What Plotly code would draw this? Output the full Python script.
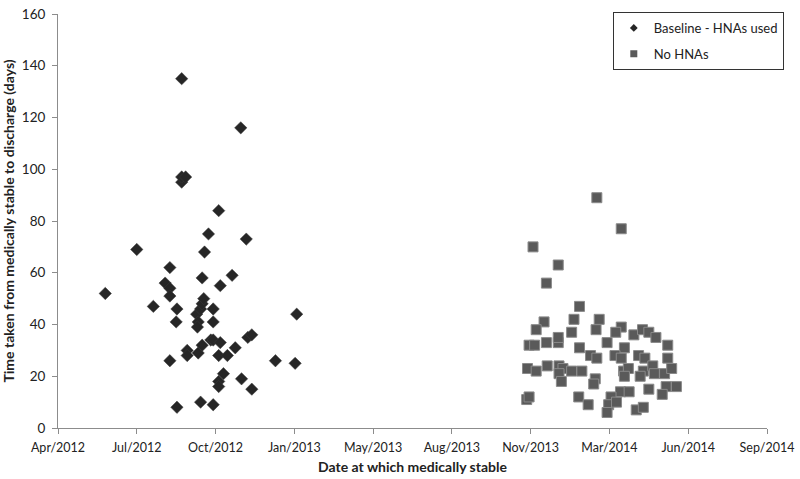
import plotly.graph_objects as go

# Baseline - HNAs used (date medically stable, days to discharge)
baseline_dates = [
    "2012-05-31", "2012-07-10", "2012-07-31", "2012-08-15", "2012-08-21", "2012-08-21",
    "2012-08-21", "2012-08-21", "2012-08-30", "2012-08-29", "2012-08-30", "2012-09-05",
    "2012-09-05", "2012-09-05", "2012-09-10", "2012-09-12", "2012-09-12", "2012-09-24",
    "2012-09-26", "2012-09-25", "2012-09-26", "2012-09-29", "2012-10-01", "2012-10-01",
    "2012-09-29", "2012-10-01", "2012-10-03", "2012-10-04", "2012-10-09", "2012-10-12",
    "2012-10-15", "2012-10-15", "2012-10-15", "2012-10-15", "2012-10-22", "2012-10-24",
    "2012-10-24", "2012-10-22", "2012-10-22", "2012-10-22", "2012-10-28", "2012-11-02",
    "2012-11-08", "2012-11-12", "2012-11-19", "2012-11-20", "2012-11-26", "2012-11-28",
    "2012-12-03", "2012-12-03", "2013-01-02", "2013-01-27", "2013-01-29",
]
baseline_days = [
    52, 69, 47, 56, 62, 54,
    51, 26, 46, 41, 8, 135,
    95, 97, 97, 30, 28, 44,
    41, 39, 29, 10, 58, 32,
    46, 48, 50, 68, 75, 34,
    46, 41, 34, 9, 84, 55,
    33, 28, 18, 16, 21, 28,
    59, 31, 116, 19, 73, 35,
    36, 15, 26, 25, 44,
]

# No HNAs
nohna_dates = [
    "2014-02-14", "2014-03-17", "2013-11-25", "2013-12-27", "2013-12-12", "2014-01-23",
    "2013-12-09", "2014-01-16", "2014-02-17", "2013-11-29", "2014-01-13", "2014-02-13",
    "2014-03-17", "2014-03-10", "2014-04-02", "2014-04-13", "2014-04-21", "2014-04-30",
    "2014-05-15", "2013-11-20", "2013-11-27", "2013-12-12", "2013-12-27", "2013-12-27",
    "2014-02-27", "2014-01-23", "2014-03-21", "2014-02-06", "2014-02-14", "2014-03-09",
    "2014-03-17", "2014-04-08", "2014-04-16", "2014-05-15", "2013-11-18", "2013-11-29",
    "2013-12-13", "2013-12-28", "2014-01-02", "2013-12-28", "2013-12-31", "2014-01-13",
    "2014-01-26", "2014-02-12", "2014-02-10", "2014-03-20", "2014-03-26", "2014-03-21",
    "2014-04-14", "2014-04-10", "2014-04-26", "2014-04-28", "2014-05-11", "2014-05-20",
    "2014-05-13", "2014-05-26", "2014-04-21", "2014-05-08", "2014-03-16", "2014-03-27",
    "2014-03-04", "2014-03-01", "2014-03-11", "2014-02-27", "2014-04-05", "2014-04-14",
    "2014-01-22", "2014-02-03", "2013-11-17", "2013-11-20",
]
nohna_days = [
    89, 77, 70, 63, 56, 47,
    41, 42, 42, 38, 37, 38,
    39, 37, 36, 38, 37, 35,
    32, 32, 32, 33, 33, 35,
    33, 31, 31, 28, 27, 28,
    27, 28, 27, 27, 23, 22,
    24, 24, 23, 21, 18, 22,
    22, 19, 17, 22, 23, 20,
    22, 20, 24, 21, 21, 23,
    16, 16, 15, 13, 14, 14,
    12, 9, 10, 6, 7, 8,
    12, 9, 11, 12,
]

y_ticks = [0, 20, 40, 60, 80, 100, 120, 140, 160]

font_family = "Lato, 'Open Sans', sans-serif"
DIAMOND_COLOR = "#262626"
SQUARE_COLOR = "#5a5a5a"

fig = go.Figure()
fig.add_trace(go.Scatter(
    x=baseline_dates, y=baseline_days, mode="markers",
    name="Baseline - HNAs used", showlegend=False,
    marker=dict(symbol="diamond", size=9.5, color=DIAMOND_COLOR,
                line=dict(color="#3a3a3a", width=0.5)),
))
fig.add_trace(go.Scatter(
    x=nohna_dates, y=nohna_days, mode="markers",
    name="No HNAs", showlegend=False,
    marker=dict(symbol="square", size=10, color=SQUARE_COLOR,
                line=dict(color="#8a8a8a", width=1)),
))
# legend-only entries with the small legend symbols
fig.add_trace(go.Scatter(
    x=[None], y=[None], mode="markers", name="Baseline - HNAs used",
    legendgroup="a",
    marker=dict(symbol="diamond", size=6, color=DIAMOND_COLOR),
))
fig.add_trace(go.Scatter(
    x=[None], y=[None], mode="markers", name="No HNAs",
    legendgroup="b",
    marker=dict(symbol="square", size=7, color=SQUARE_COLOR),
))

fig.update_layout(
    width=800, height=479,
    margin=dict(l=55, r=29, t=6, b=51),
    paper_bgcolor="white", plot_bgcolor="white",
    font=dict(family=font_family, size=12, color="#222"),
    showlegend=True,
    legend=dict(
        x=1.0237, xanchor="right", y=1.005, yanchor="top",
        bordercolor="#333", borderwidth=1, bgcolor="white",
        font=dict(size=13, color="#222"), itemwidth=30,
        traceorder="grouped", tracegroupgap=6,
    ),
    xaxis=dict(
        type="date",
        range=["2012-04-01", "2014-09-18"],
        tick0="2012-04-01", dtick=100 * 86400000,
        tickformat="%b/%Y",
        showgrid=False, zeroline=False,
        showline=True, linecolor="#8c8c8c", linewidth=1,
        ticks="outside", ticklen=5, tickcolor="#8c8c8c",
        tickfont=dict(size=12.5, color="#222"),
        ticklabeloverflow="allow", ticklabelstandoff=3,
        title=dict(text="<b>Date at which medically stable</b>",
                   font=dict(size=14, color="#222"), standoff=8),
    ),
    yaxis=dict(
        range=[0, 160], tickvals=y_ticks,
        showgrid=False, zeroline=False,
        showline=True, linecolor="#8c8c8c", linewidth=1,
        ticks="outside", ticklen=5, tickcolor="#8c8c8c",
        tickfont=dict(size=13.5, color="#222"),
        ticklabeloverflow="allow", ticklabelstandoff=4,
        title=dict(text="<b>Time taken from medically stable to discharge (days)</b>",
                   font=dict(size=14, color="#222"), standoff=6),
    ),
)

fig.write_html("out.html", config={"displayModeBar": False},
               post_script="document.body.style.margin='0';")
